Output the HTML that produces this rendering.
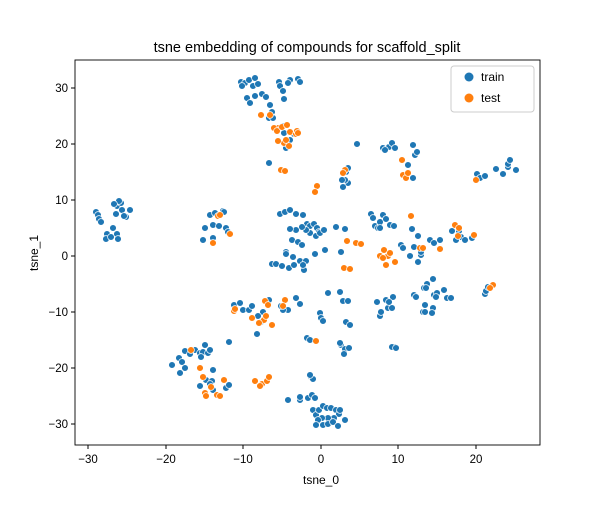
<!DOCTYPE html>
<html><head><meta charset="utf-8"><style>body{margin:0;background:#fff}svg{font-family:"Liberation Sans",sans-serif}.b{fill:#1f77b4}.o{fill:#ff7f0e}</style></head>
<body>
<svg width="600" height="500" viewBox="0 0 600 500" xmlns="http://www.w3.org/2000/svg">
<rect width="600" height="500" fill="#fff"/>
<text x="307" y="52" font-size="14.5" text-anchor="middle">tsne embedding of compounds for scaffold_split</text>
<g stroke="#fff" stroke-width="0.7">
<g class="b">
<circle cx="96" cy="212" r="3.4"/><circle cx="98" cy="215" r="3.4"/><circle cx="99" cy="219" r="3.4"/><circle cx="101" cy="222" r="3.4"/><circle cx="107" cy="234" r="3.4"/><circle cx="106" cy="239" r="3.4"/><circle cx="111" cy="237" r="3.4"/><circle cx="117" cy="234" r="3.4"/><circle cx="118" cy="239" r="3.4"/><circle cx="113" cy="228" r="3.4"/><circle cx="116" cy="214" r="3.4"/><circle cx="117" cy="206" r="3.4"/><circle cx="121" cy="203" r="3.4"/><circle cx="119" cy="201" r="3.4"/><circle cx="114" cy="204" r="3.4"/><circle cx="122" cy="210" r="3.4"/><circle cx="126" cy="217" r="3.4"/><circle cx="130" cy="210" r="3.4"/><circle cx="124" cy="216" r="3.4"/>
<circle cx="210" cy="215" r="3.4"/><circle cx="213" cy="225" r="3.4"/><circle cx="205" cy="228" r="3.4"/><circle cx="203" cy="240" r="3.4"/><circle cx="213" cy="238" r="3.4"/><circle cx="215" cy="213" r="3.4"/><circle cx="223" cy="211" r="3.4"/><circle cx="226" cy="228" r="3.4"/><circle cx="228" cy="232" r="3.4"/><circle cx="219" cy="226" r="3.4"/><circle cx="224" cy="212" r="3.4"/>
<circle cx="241" cy="82" r="3.4"/><circle cx="245" cy="83" r="3.4"/><circle cx="249" cy="80" r="3.4"/><circle cx="242" cy="86" r="3.4"/><circle cx="253" cy="86" r="3.4"/><circle cx="255" cy="78" r="3.4"/><circle cx="258" cy="84" r="3.4"/><circle cx="247" cy="98" r="3.4"/><circle cx="250" cy="103" r="3.4"/><circle cx="255" cy="96" r="3.4"/><circle cx="262" cy="94" r="3.4"/><circle cx="266" cy="97" r="3.4"/><circle cx="270" cy="105" r="3.4"/><circle cx="272" cy="112" r="3.4"/><circle cx="269" cy="118" r="3.4"/><circle cx="273" cy="118" r="3.4"/><circle cx="279" cy="82" r="3.4"/><circle cx="280" cy="86" r="3.4"/><circle cx="290" cy="80" r="3.4"/><circle cx="298" cy="79" r="3.4"/><circle cx="300" cy="82" r="3.4"/><circle cx="288" cy="83" r="3.4"/><circle cx="283" cy="91" r="3.4"/><circle cx="284" cy="99" r="3.4"/><circle cx="283" cy="126" r="3.4"/><circle cx="284" cy="133" r="3.4"/><circle cx="286" cy="148" r="3.4"/><circle cx="290" cy="140" r="3.4"/><circle cx="294" cy="134" r="3.4"/><circle cx="269" cy="163" r="3.4"/>
<circle cx="280" cy="214" r="3.4"/><circle cx="285" cy="212" r="3.4"/><circle cx="290" cy="210" r="3.4"/><circle cx="296" cy="214" r="3.4"/><circle cx="303" cy="215" r="3.4"/><circle cx="307" cy="224" r="3.4"/><circle cx="310" cy="226" r="3.4"/><circle cx="314" cy="224" r="3.4"/><circle cx="317" cy="228" r="3.4"/><circle cx="319" cy="232" r="3.4"/><circle cx="310" cy="233" r="3.4"/><circle cx="306" cy="230" r="3.4"/><circle cx="302" cy="227" r="3.4"/><circle cx="316" cy="236" r="3.4"/><circle cx="320" cy="233" r="3.4"/><circle cx="324" cy="230" r="3.4"/><circle cx="336" cy="227" r="3.4"/><circle cx="296" cy="230" r="3.4"/><circle cx="290" cy="229" r="3.4"/><circle cx="292" cy="240" r="3.4"/><circle cx="298" cy="242" r="3.4"/><circle cx="302" cy="245" r="3.4"/><circle cx="286" cy="252" r="3.4"/><circle cx="286" cy="254" r="3.4"/><circle cx="293" cy="257" r="3.4"/><circle cx="300" cy="261" r="3.4"/><circle cx="306" cy="261" r="3.4"/><circle cx="304" cy="270" r="3.4"/><circle cx="315" cy="254" r="3.4"/><circle cx="325" cy="250" r="3.4"/><circle cx="272" cy="264" r="3.4"/><circle cx="276" cy="264" r="3.4"/><circle cx="282" cy="266" r="3.4"/><circle cx="289" cy="268" r="3.4"/><circle cx="294" cy="265" r="3.4"/><circle cx="303" cy="265" r="3.4"/><circle cx="341" cy="252" r="3.4"/><circle cx="345" cy="229" r="3.4"/>
<circle cx="263" cy="312" r="3.4"/><circle cx="269" cy="300" r="3.4"/><circle cx="288" cy="310" r="3.4"/><circle cx="296" cy="298" r="3.4"/><circle cx="300" cy="304" r="3.4"/><circle cx="307" cy="338" r="3.4"/><circle cx="310" cy="340" r="3.4"/><circle cx="320" cy="313" r="3.4"/><circle cx="321" cy="318" r="3.4"/><circle cx="323" cy="321" r="3.4"/><circle cx="340" cy="292" r="3.4"/><circle cx="343" cy="301" r="3.4"/><circle cx="348" cy="301" r="3.4"/><circle cx="346" cy="322" r="3.4"/><circle cx="350" cy="325" r="3.4"/><circle cx="328" cy="293" r="3.4"/>
<circle cx="234" cy="305" r="3.4"/><circle cx="240" cy="303" r="3.4"/><circle cx="243" cy="310" r="3.4"/><circle cx="249" cy="310" r="3.4"/><circle cx="252" cy="306" r="3.4"/><circle cx="258" cy="316" r="3.4"/><circle cx="261" cy="322" r="3.4"/><circle cx="257" cy="334" r="3.4"/><circle cx="283" cy="310" r="3.4"/><circle cx="281" cy="306" r="3.4"/>
<circle cx="179" cy="358" r="3.4"/><circle cx="182" cy="362" r="3.4"/><circle cx="185" cy="368" r="3.4"/><circle cx="180" cy="373" r="3.4"/><circle cx="172" cy="365" r="3.4"/><circle cx="185" cy="351" r="3.4"/><circle cx="190" cy="354" r="3.4"/><circle cx="195" cy="350" r="3.4"/><circle cx="200" cy="353" r="3.4"/><circle cx="203" cy="352" r="3.4"/><circle cx="201" cy="357" r="3.4"/><circle cx="205" cy="345" r="3.4"/><circle cx="208" cy="353" r="3.4"/><circle cx="210" cy="350" r="3.4"/><circle cx="213" cy="370" r="3.4"/><circle cx="206" cy="380" r="3.4"/><circle cx="212" cy="381" r="3.4"/><circle cx="210" cy="384" r="3.4"/><circle cx="229" cy="342" r="3.4"/><circle cx="226" cy="388" r="3.4"/><circle cx="229" cy="385" r="3.4"/><circle cx="200" cy="386" r="3.4"/><circle cx="213" cy="390" r="3.4"/>
<circle cx="313" cy="410" r="3.4"/><circle cx="316" cy="415" r="3.4"/><circle cx="319" cy="410" r="3.4"/><circle cx="323" cy="406" r="3.4"/><circle cx="327" cy="408" r="3.4"/><circle cx="331" cy="408" r="3.4"/><circle cx="336" cy="410" r="3.4"/><circle cx="339" cy="414" r="3.4"/><circle cx="334" cy="418" r="3.4"/><circle cx="328" cy="418" r="3.4"/><circle cx="322" cy="418" r="3.4"/><circle cx="318" cy="420" r="3.4"/><circle cx="316" cy="425" r="3.4"/><circle cx="323" cy="425" r="3.4"/><circle cx="328" cy="424" r="3.4"/><circle cx="333" cy="422" r="3.4"/><circle cx="338" cy="426" r="3.4"/><circle cx="345" cy="420" r="3.4"/><circle cx="340" cy="410" r="3.4"/><circle cx="308" cy="398" r="3.4"/><circle cx="312" cy="395" r="3.4"/><circle cx="300" cy="400" r="3.4"/><circle cx="315" cy="398" r="3.4"/><circle cx="288" cy="400" r="3.4"/><circle cx="300" cy="397" r="3.4"/><circle cx="311" cy="377" r="3.4"/><circle cx="313" cy="379" r="3.4"/><circle cx="341" cy="345" r="3.4"/><circle cx="340" cy="343" r="3.4"/><circle cx="345" cy="349" r="3.4"/><circle cx="349" cy="348" r="3.4"/><circle cx="344" cy="354" r="3.4"/><circle cx="310" cy="375" r="3.4"/>
<circle cx="357" cy="144" r="3.4"/><circle cx="383" cy="148" r="3.4"/><circle cx="389" cy="147" r="3.4"/><circle cx="392" cy="143" r="3.4"/><circle cx="395" cy="148" r="3.4"/><circle cx="385" cy="150" r="3.4"/><circle cx="413" cy="145" r="3.4"/><circle cx="415" cy="155" r="3.4"/><circle cx="417" cy="152" r="3.4"/><circle cx="408" cy="165" r="3.4"/><circle cx="413" cy="178" r="3.4"/><circle cx="348" cy="183" r="3.4"/><circle cx="343" cy="187" r="3.4"/><circle cx="346" cy="172" r="3.4"/><circle cx="345" cy="180" r="3.4"/><circle cx="342" cy="180" r="3.4"/><circle cx="348" cy="168" r="3.4"/>
<circle cx="371" cy="214" r="3.4"/><circle cx="373" cy="218" r="3.4"/><circle cx="375" cy="226" r="3.4"/><circle cx="378" cy="228" r="3.4"/><circle cx="380" cy="222" r="3.4"/><circle cx="383" cy="215" r="3.4"/><circle cx="386" cy="219" r="3.4"/><circle cx="390" cy="225" r="3.4"/><circle cx="394" cy="226" r="3.4"/><circle cx="401" cy="245" r="3.4"/><circle cx="380" cy="228" r="3.4"/><circle cx="403" cy="248" r="3.4"/><circle cx="410" cy="256" r="3.4"/><circle cx="421" cy="255" r="3.4"/><circle cx="418" cy="262" r="3.4"/><circle cx="421" cy="252" r="3.4"/><circle cx="430" cy="240" r="3.4"/><circle cx="427" cy="284" r="3.4"/><circle cx="424" cy="288" r="3.4"/><circle cx="425" cy="305" r="3.4"/><circle cx="423" cy="312" r="3.4"/><circle cx="426" cy="288" r="3.4"/><circle cx="434" cy="295" r="3.4"/><circle cx="433" cy="308" r="3.4"/><circle cx="433" cy="279" r="3.4"/><circle cx="414" cy="247" r="3.4"/><circle cx="412" cy="229" r="3.4"/><circle cx="418" cy="236" r="3.4"/><circle cx="434" cy="243" r="3.4"/><circle cx="440" cy="240" r="3.4"/><circle cx="461" cy="237" r="3.4"/><circle cx="459" cy="231" r="3.4"/><circle cx="452" cy="231" r="3.4"/><circle cx="456" cy="240" r="3.4"/><circle cx="465" cy="240" r="3.4"/><circle cx="472" cy="238" r="3.4"/>
<circle cx="377" cy="302" r="3.4"/><circle cx="380" cy="316" r="3.4"/><circle cx="381" cy="312" r="3.4"/><circle cx="386" cy="300" r="3.4"/><circle cx="388" cy="308" r="3.4"/><circle cx="392" cy="308" r="3.4"/><circle cx="393" cy="297" r="3.4"/><circle cx="395" cy="347" r="3.4"/><circle cx="392" cy="347" r="3.4"/><circle cx="396" cy="348" r="3.4"/><circle cx="389" cy="302" r="3.4"/><circle cx="414" cy="295" r="3.4"/><circle cx="416" cy="297" r="3.4"/><circle cx="437" cy="293" r="3.4"/><circle cx="436" cy="297" r="3.4"/><circle cx="447" cy="298" r="3.4"/><circle cx="451" cy="298" r="3.4"/><circle cx="444" cy="290" r="3.4"/><circle cx="425" cy="312" r="3.4"/><circle cx="432" cy="313" r="3.4"/>
<circle cx="477" cy="174" r="3.4"/><circle cx="480" cy="178" r="3.4"/><circle cx="485" cy="176" r="3.4"/><circle cx="496" cy="169" r="3.4"/><circle cx="503" cy="174" r="3.4"/><circle cx="508" cy="167" r="3.4"/><circle cx="508" cy="164" r="3.4"/><circle cx="510" cy="160" r="3.4"/><circle cx="516" cy="170" r="3.4"/><circle cx="485" cy="294" r="3.4"/><circle cx="486" cy="291" r="3.4"/><circle cx="488" cy="287" r="3.4"/>
</g>
<g class="o">
<circle cx="261" cy="115" r="3.4"/><circle cx="270" cy="115" r="3.4"/><circle cx="278" cy="128" r="3.4"/><circle cx="274" cy="128" r="3.4"/><circle cx="277" cy="131" r="3.4"/><circle cx="282" cy="127" r="3.4"/><circle cx="287" cy="125" r="3.4"/><circle cx="290" cy="132" r="3.4"/><circle cx="296" cy="134" r="3.4"/><circle cx="297" cy="131" r="3.4"/><circle cx="298" cy="133" r="3.4"/><circle cx="284" cy="143" r="3.4"/><circle cx="289" cy="146" r="3.4"/><circle cx="278" cy="141" r="3.4"/><circle cx="286" cy="140" r="3.4"/><circle cx="281" cy="170" r="3.4"/><circle cx="285" cy="171" r="3.4"/><circle cx="345" cy="170" r="3.4"/><circle cx="343" cy="173" r="3.4"/><circle cx="317" cy="186" r="3.4"/><circle cx="315" cy="192" r="3.4"/><circle cx="213" cy="243" r="3.4"/><circle cx="218" cy="216" r="3.4"/><circle cx="220" cy="215" r="3.4"/><circle cx="230" cy="234" r="3.4"/><circle cx="347" cy="241" r="3.4"/><circle cx="356" cy="243" r="3.4"/><circle cx="361" cy="244" r="3.4"/><circle cx="344" cy="268" r="3.4"/><circle cx="350" cy="269" r="3.4"/><circle cx="380" cy="256" r="3.4"/><circle cx="384" cy="250" r="3.4"/><circle cx="388" cy="256" r="3.4"/><circle cx="386" cy="265" r="3.4"/><circle cx="390" cy="253" r="3.4"/><circle cx="395" cy="262" r="3.4"/><circle cx="383" cy="258" r="3.4"/><circle cx="402" cy="160" r="3.4"/><circle cx="403" cy="175" r="3.4"/><circle cx="406" cy="178" r="3.4"/><circle cx="408" cy="173" r="3.4"/><circle cx="411" cy="216" r="3.4"/><circle cx="420" cy="248" r="3.4"/><circle cx="423" cy="248" r="3.4"/><circle cx="440" cy="249" r="3.4"/><circle cx="455" cy="225" r="3.4"/><circle cx="459" cy="228" r="3.4"/><circle cx="474" cy="235" r="3.4"/><circle cx="476" cy="180" r="3.4"/><circle cx="458" cy="236" r="3.4"/><circle cx="493" cy="285" r="3.4"/><circle cx="490" cy="288" r="3.4"/><circle cx="265" cy="301" r="3.4"/><circle cx="268" cy="305" r="3.4"/><circle cx="264" cy="320" r="3.4"/><circle cx="266" cy="316" r="3.4"/><circle cx="272" cy="325" r="3.4"/><circle cx="285" cy="300" r="3.4"/><circle cx="283" cy="306" r="3.4"/><circle cx="252" cy="318" r="3.4"/><circle cx="234" cy="311" r="3.4"/><circle cx="235" cy="309" r="3.4"/><circle cx="259" cy="323" r="3.4"/><circle cx="191" cy="350" r="3.4"/><circle cx="200" cy="368" r="3.4"/><circle cx="203" cy="377" r="3.4"/><circle cx="205" cy="393" r="3.4"/><circle cx="206" cy="396" r="3.4"/><circle cx="211" cy="387" r="3.4"/><circle cx="217" cy="395" r="3.4"/><circle cx="220" cy="396" r="3.4"/><circle cx="224" cy="380" r="3.4"/><circle cx="255" cy="381" r="3.4"/><circle cx="262" cy="384" r="3.4"/><circle cx="267" cy="381" r="3.4"/><circle cx="260" cy="386" r="3.4"/><circle cx="269" cy="377" r="3.4"/><circle cx="316" cy="341" r="3.4"/>
</g>
</g>
<rect x="75" y="60" width="465" height="385" fill="none" stroke="#000" stroke-width="0.9"/>
<g stroke="#000">
<line x1="88" y1="445" x2="88" y2="449"/><line x1="166" y1="445" x2="166" y2="449"/><line x1="243" y1="445" x2="243" y2="449"/><line x1="321" y1="445" x2="321" y2="449"/><line x1="398" y1="445" x2="398" y2="449"/><line x1="476" y1="445" x2="476" y2="449"/>
<line x1="71" y1="88" x2="75" y2="88"/><line x1="71" y1="144" x2="75" y2="144"/><line x1="71" y1="200" x2="75" y2="200"/><line x1="71" y1="256" x2="75" y2="256"/><line x1="71" y1="312" x2="75" y2="312"/><line x1="71" y1="368" x2="75" y2="368"/><line x1="71" y1="424" x2="75" y2="424"/>
</g>
<g font-size="11.5" text-anchor="middle">
<text x="88" y="463">−30</text><text x="166" y="463">−20</text><text x="243" y="463">−10</text><text x="321" y="463">0</text><text x="398" y="463">10</text><text x="476" y="463">20</text>
<text x="321" y="484" font-size="12">tsne_0</text>
</g>
<g font-size="11.5" text-anchor="end">
<text x="68" y="92">30</text><text x="68" y="148">20</text><text x="68" y="204">10</text><text x="68" y="260">0</text><text x="68" y="316">−10</text><text x="68" y="372">−20</text><text x="68" y="428">−30</text>
</g>
<text x="38" y="253" font-size="12" text-anchor="middle" transform="rotate(-90 38 253)">tsne_1</text>
<rect x="451" y="66" width="83" height="46" rx="3" fill="#fff" fill-opacity="0.8" stroke="#ccc"/>
<circle cx="469" cy="77" r="4.5" fill="#1f77b4"/><text x="481" y="81" font-size="12">train</text>
<circle cx="469" cy="98" r="4.5" fill="#ff7f0e"/><text x="481" y="102" font-size="12">test</text>
</svg>
</body></html>
